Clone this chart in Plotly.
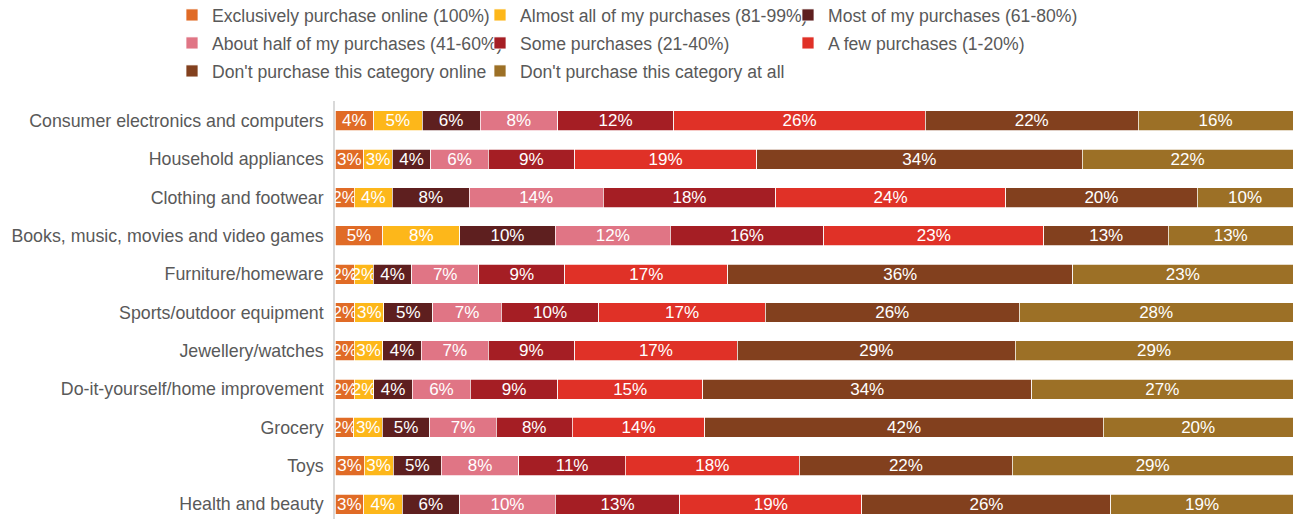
import plotly.graph_objects as go

# =============================================================================
# DATA
# =============================================================================

categories = [
    "Consumer electronics and computers",
    "Household appliances",
    "Clothing and footwear",
    "Books, music, movies and video games",
    "Furniture/homeware",
    "Sports/outdoor equipment",
    "Jewellery/watches",
    "Do-it-yourself/home improvement",
    "Grocery",
    "Toys",
    "Health and beauty",
]

series_names = [
    "Exclusively purchase online (100%)",
    "Almost all of my purchases (81-99%)",
    "Most of my purchases (61-80%)",
    "About half of my purchases (41-60%)",
    "Some purchases (21-40%)",
    "A few purchases (1-20%)",
    "Don't purchase this category online",
    "Don't purchase this category at all",
]

exclusively = [4, 3, 2, 5, 2, 2, 2, 2, 2, 3, 3]
almost_all = [5, 3, 4, 8, 2, 3, 3, 2, 3, 3, 4]
most_of = [6, 4, 8, 10, 4, 5, 4, 4, 5, 5, 6]
about_half = [8, 6, 14, 12, 7, 7, 7, 6, 7, 8, 10]
some = [12, 9, 18, 16, 9, 10, 9, 9, 8, 11, 13]
a_few = [26, 19, 24, 23, 17, 17, 17, 15, 14, 18, 19]
not_online = [22, 34, 20, 13, 36, 26, 29, 34, 42, 22, 26]
not_at_all = [16, 22, 10, 13, 23, 28, 29, 27, 20, 29, 19]

series_values = [
    exclusively, almost_all, most_of, about_half,
    some, a_few, not_online, not_at_all,
]

COLOURS = [
    "#E06B26", "#FDB71A", "#5E1F1F", "#E07585",
    "#A51E24", "#E03127", "#82401E", "#9C7026",
]

# legend rows as laid out in the original (3 / 3 / 2 items)
LEGEND_OF = ["legend", "legend", "legend",
             "legend2", "legend2", "legend2",
             "legend3", "legend3"]

FONT = "Liberation Sans, Arial, sans-serif"
GREY = "#595959"

# =============================================================================
# FIGURE
# =============================================================================

fig = go.Figure()

for name, vals, col, leg in zip(series_names, series_values, COLOURS, LEGEND_OF):
    fig.add_trace(
        go.Bar(
            y=categories,
            x=vals,
            name=name,
            legend=leg,
            orientation="h",
            marker=dict(color=col, line=dict(color="white", width=0.75)),
            text=[f"{v}%" for v in vals],
            textposition="inside",
            insidetextanchor="middle",
            textangle=0,
            constraintext="none",
            textfont=dict(family=FONT, size=17, color="white"),
            width=0.52,
            hovertemplate="<b>%{y}</b><br>" + name + ": %{text}<extra></extra>",
        )
    )


def legend_row(y_px):
    return dict(
        orientation="h",
        xref="container",
        yref="container",
        x=172 / 1301,
        xanchor="left",
        y=1 - y_px / 519,
        yanchor="middle",
        entrywidth=263,
        entrywidthmode="pixels",
        font=dict(family=FONT, size=17.6, color=GREY),
        traceorder="normal",
        itemclick=False,
        bgcolor="rgba(0,0,0,0)",
    )


fig.update_layout(
    barmode="stack",
    barnorm="percent",
    width=1301,
    height=519,
    paper_bgcolor="white",
    plot_bgcolor="white",
    margin=dict(l=335, r=8, t=101, b=0, autoexpand=False),
    font=dict(family=FONT, size=17, color=GREY),
    legend=legend_row(15),
    legend2=legend_row(43),
    legend3=legend_row(71),
)

fig.update_xaxes(
    range=[0, 100],
    visible=False,
    showgrid=False,
)

fig.update_yaxes(
    range=[10.39, -0.52],
    showgrid=False,
    showline=True,
    linecolor="#d9d9d9",
    linewidth=1.5,
    ticks="",
    ticklabelstandoff=6,
    tickfont=dict(family=FONT, size=17.8, color=GREY),
)

# the browser's default 8px body margin would push the chart off the window
fig.write_html(
    "out.html",
    config={"displayModeBar": False},
    post_script="document.body.style.margin='0';document.body.style.overflow='hidden';",
)
